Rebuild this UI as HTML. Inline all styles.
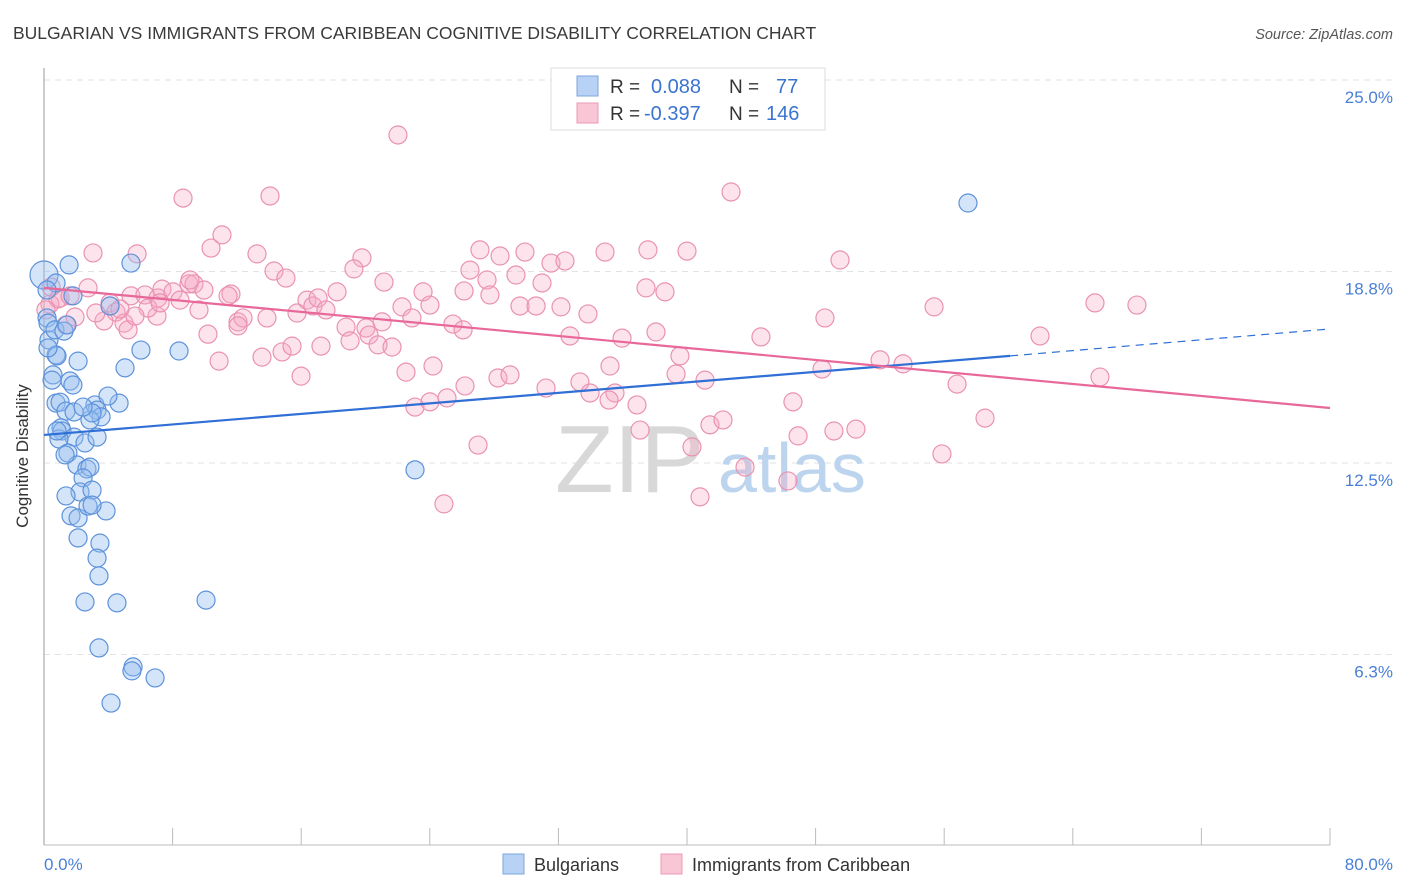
<!DOCTYPE html>
<html><head><meta charset="utf-8"><style>
body{margin:0;background:#fff;font-family:"Liberation Sans",sans-serif;}
#wrap{position:relative;width:1406px;height:892px;overflow:hidden;}
svg text{font-family:"Liberation Sans",sans-serif;}
</style></head><body>
<div id="wrap">
<svg id="chart" width="1406" height="892">
<text x="13" y="39" font-size="17.5" fill="#3a3a3a">BULGARIAN VS IMMIGRANTS FROM CARIBBEAN COGNITIVE DISABILITY CORRELATION CHART</text>
<text x="1393" y="39" font-size="14.5" fill="#555" font-style="italic" text-anchor="end">Source: ZipAtlas.com</text>
<g id="grid"></g>
<text x="555" y="492" font-size="96" fill="#d8d8d8" font-family="Liberation Serif">ZIP</text>
<text x="718" y="492" font-size="70" fill="#bcd4ee">atlas</text>
<line x1="44" y1="68" x2="44" y2="845" stroke="#bbb" stroke-width="1.5"/>
<line x1="44" y1="845" x2="1330" y2="845" stroke="#bbb" stroke-width="1"/>
<g id="xticks"></g>
<g id="pts"></g>
<g id="lines"></g>
<text x="28" y="456" font-size="17" fill="#333" text-anchor="middle" transform="rotate(-90 28 456)">Cognitive Disability</text>
<text x="44" y="870" font-size="17" fill="#4a7fd6">0.0%</text>
<text x="1393" y="870" font-size="17" fill="#4a7fd6" text-anchor="end">80.0%</text>
<g>
<rect x="551" y="68" width="274" height="62" fill="#fff" stroke="#ddd"/>
<rect x="577" y="76" width="21" height="20" fill="#b8d2f5" stroke="#7da6e0"/>
<rect x="577" y="103" width="21" height="20" fill="#f9c6d6" stroke="#ec9ab6"/>
<text x="610" y="93" font-size="19" fill="#333">R =</text>
<text x="651" y="93" font-size="20" fill="#3b74d0">0.088</text>
<text x="729" y="93" font-size="19" fill="#333">N =</text>
<text x="776" y="93" font-size="20" fill="#3b74d0">77</text>
<text x="610" y="120" font-size="19" fill="#333">R =</text>
<text x="644" y="120" font-size="20" fill="#3b74d0">-0.397</text>
<text x="729" y="120" font-size="19" fill="#333">N =</text>
<text x="766" y="120" font-size="20" fill="#3b74d0">146</text>
</g>
<g>
<rect x="503" y="854" width="21" height="20" fill="#b8d2f5" stroke="#7da6e0"/>
<text x="534" y="871" font-size="18" fill="#333">Bulgarians</text>
<rect x="661" y="854" width="21" height="20" fill="#f9c6d6" stroke="#ec9ab6"/>
<text x="692" y="871" font-size="18" fill="#333">Immigrants from Caribbean</text>
</g>
</svg>
</div>
<script>
const tickVals=[6.25,12.5,18.75,25];
const tickLabels=["6.3%","12.5%","18.8%","25.0%"];
const xTickVals=[0,8,16,24,32,40,48,56,64,72,80];
const blueX=[0,1.56,5.41,0.75,1.8,0.19,0.25,0.31,0.75,0.81,2.12,5.04,6.03,8.4,0.56,1.62,1.8,0.75,1,3.17,3.3,4.67,3.98,1.37,1.87,3.55,1.06,1.12,2.86,1.87,0.93,2.55,3.3,1.49,2.05,2.67,2.86,2.43,2.24,2.99,1.37,3.86,1.68,2.12,2.74,2.99,2.12,3.48,3.3,3.42,2.55,4.54,10.08,3.42,5.54,5.47,6.91,4.17,23.08,57.48,0.19,0.25,0.68,4.11,1.24,1.43,0.5,1.31,0.81,2.99,2.43];
const blueY=[19.19,19.52,19.58,18.93,18.51,17.79,17.62,17.07,16.58,16.55,16.38,16.16,16.74,16.71,15.93,15.73,15.6,15.01,15.04,14.95,14.78,15.01,15.24,14.75,14.72,14.56,14.2,14.1,14.46,13.9,13.84,13.71,13.9,13.38,12.99,12.86,12.92,12.57,12.11,12.17,11.98,11.49,11.33,11.26,11.65,11.68,10.61,10.44,9.95,9.37,8.52,8.49,8.58,7.02,6.4,6.27,6.04,5.22,12.83,21.54,18.7,16.81,17.4,18.18,17.36,17.56,15.76,13.32,14.1,14.69,14.88];
const pinkX=[22.02,8.65,14.06,42.74,3.05,5.79,10.39,11.07,13.25,19.78,14.31,15.05,19.28,21.15,26.5,27.12,28.37,29.92,31.54,32.41,34.9,37.57,40,49.52,27.56,29.36,30.98,37.45,38.63,1,0.37,0.87,1.62,2.74,4.11,4.48,3.73,3.23,5.41,6.28,7.09,7.34,8.02,8.46,9.02,9.33,9.95,11.63,11.45,9.64,7.03,6.47,4.98,5.23,10.2,12.07,12.38,12.07,13.87,15.74,16.36,16.73,17.05,17.54,18.23,18.79,19.04,20.03,20.22,20.78,21.03,21.65,22.27,22.89,23.58,24.01,25.44,26.07,26.13,27.74,29.61,30.61,32.16,33.84,32.72,35.21,35.96,38.07,39.56,44.6,48.58,55.37,65.38,67.99,61.96,10.89,13.56,14.81,15.43,17.23,15.99,22.52,24.2,26.19,28.24,28.99,31.23,33.34,33.97,35.52,39.32,41.12,48.4,52.01,53.44,56.8,65.69,23.08,24.01,25.07,27,24.88,35.15,36.89,37.08,40.31,40.81,41.43,42.24,43.61,46.28,46.59,46.91,49.14,50.51,55.86,58.54,0.44,0.12,1.37,1.93,9.08,4.73,7.22,5.66];
const pinkY=[23.76,21.7,21.77,21.9,19.91,19.88,20.07,20.5,19.88,19.75,19.32,19.09,19.39,18.96,19.35,20.01,19.81,19.94,19.58,19.65,19.94,20.01,19.97,19.68,19.03,19.19,18.93,18.77,18.64,18.44,18.24,18.41,18.51,18.77,18.28,17.98,17.69,17.95,18.51,18.54,18.44,18.73,18.64,18.37,18.9,18.9,18.7,18.57,18.51,18.05,17.85,18.11,17.62,17.4,17.26,17.66,17.79,17.53,17.79,17.95,18.37,18.18,18.44,18.05,18.64,17.49,17.04,17.46,17.23,16.91,17.66,16.84,18.15,17.79,18.64,18.21,17.59,17.4,18.67,18.54,18.18,18.18,18.15,17.92,17.2,16.22,17.13,17.33,16.55,17.17,17.79,18.15,18.28,18.21,17.2,16.38,16.51,16.68,16.87,16.87,15.89,16.02,16.22,15.57,15.83,15.93,15.5,15.7,15.34,15.34,15.96,15.76,16.12,16.42,16.29,15.63,15.86,14.88,15.05,15.18,13.64,11.72,15.11,14.95,14.13,13.58,11.95,14.3,14.46,12.92,12.47,15.05,13.94,14.1,14.16,13.35,14.52,18.8,18.05,17.56,17.82,19.03,18.08,18.28,17.85];
const blueTrendX=[0,60.1,80];
const blueTrendY=[13.97,16.55,17.43];
const pinkTrendX=[0,80];
const pinkTrendY=[18.77,14.85];
const NS="http://www.w3.org/2000/svg";
function xs(v){return 44+v*16.075;}
function ys(v){return 863-v*30.64;}
function mk(tag,attrs,parent){const e=document.createElementNS(NS,tag);for(const k in attrs)e.setAttribute(k,attrs[k]);parent.appendChild(e);return e;}
const grid=document.getElementById('grid');
tickVals.forEach((t,i)=>{
  const l=mk('line',{x1:44,x2:1393,y1:ys(t)-17,y2:ys(t)-17,stroke:'#e2e2e2','stroke-dasharray':'6,5'},grid);
  
  
  const tx=mk('text',{x:1393,y:ys(t)+6,'font-size':17,fill:'#4a7fd6','text-anchor':'end'},grid);
  tx.textContent=tickLabels[i];
  
  
});
const xt=document.getElementById('xticks');
xTickVals.forEach(v=>{
  const l=mk('line',{x1:xs(v),x2:xs(v),y1:828,y2:845,stroke:'#bbb'},xt);
  
  
});
const pts=document.getElementById('pts');
pinkX.forEach((x,i)=>{
  const c=mk('circle',{cx:xs(x),cy:ys(pinkY[i]),r:9,fill:'rgba(246,170,196,0.33)',stroke:'#ea92b2','stroke-width':1.2},pts);
  
  
});
blueX.forEach((x,i)=>{
  const c=mk('circle',{cx:xs(x),cy:ys(blueY[i]),r:i===0?14:9,fill:'rgba(150,190,240,0.4)',stroke:'#5d92da','stroke-width':1.2},pts);
  
  
});
const lines=document.getElementById('lines');
const b1=mk('line',{x1:xs(blueTrendX[0]),y1:ys(blueTrendY[0]),x2:xs(blueTrendX[1]),y2:ys(blueTrendY[1]),stroke:'#2f6fd6','stroke-width':2.2},lines);


const b2=mk('line',{x1:xs(blueTrendX[1]),y1:ys(blueTrendY[1]),x2:xs(blueTrendX[2]),y2:ys(blueTrendY[2]),stroke:'#2f6fd6','stroke-width':1.2,'stroke-dasharray':'8,6'},lines);


const p1=mk('line',{x1:xs(pinkTrendX[0]),y1:ys(pinkTrendY[0]),x2:xs(pinkTrendX[1]),y2:ys(pinkTrendY[1]),stroke:'#e8689a','stroke-width':2.2},lines);


</script>
</body></html>
